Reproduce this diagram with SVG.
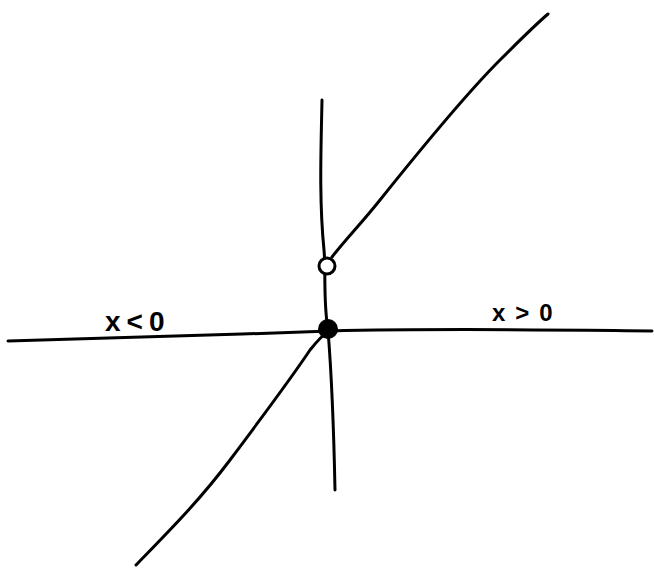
<svg xmlns="http://www.w3.org/2000/svg" width="654" height="571" viewBox="0 0 654 571">
<style>
.ln{fill:none;stroke:#000;stroke-width:3;stroke-linecap:round;stroke-linejoin:round}
.lbl{font-family:"Liberation Sans",Arial,sans-serif;font-weight:bold;fill:#000}
</style>
<rect width="654" height="571" fill="#fff"/>
<g id="connectors">
<path id="x-axis" class="ln" d="M8,341 C100,339 220,335 330,331 C450,328 560,330 652,331"/>
<path id="y-axis" class="ln" d="M322,100 C321,150 319,200 324,250 C326,270 323,300 328,330 C332,380 334,440 335,490"/>
<path id="upper-branch" class="ln" d="M332,257 C345,240 360,225 380,200 C420,150 470,90 500,60 C520,40 535,25 548,14"/>
<path id="lower-branch" class="ln" d="M136,565 C170,530 200,500 230,460 C260,420 290,380 310,350 C318,340 324,334 328,332"/>
</g>
<g id="open-circle"><circle cx="327" cy="266" r="8" fill="#fff" stroke="#000" stroke-width="3"/></g>
<g id="closed-dot"><circle cx="328" cy="329" r="10" fill="#000"/></g>
<g id="label-neg"><text class="lbl" x="105" y="331" font-size="28" letter-spacing="6">x&lt;0</text></g>
<g id="label-pos"><text class="lbl" x="492" y="321" font-size="24" letter-spacing="10">x&gt;0</text></g>
</svg>
